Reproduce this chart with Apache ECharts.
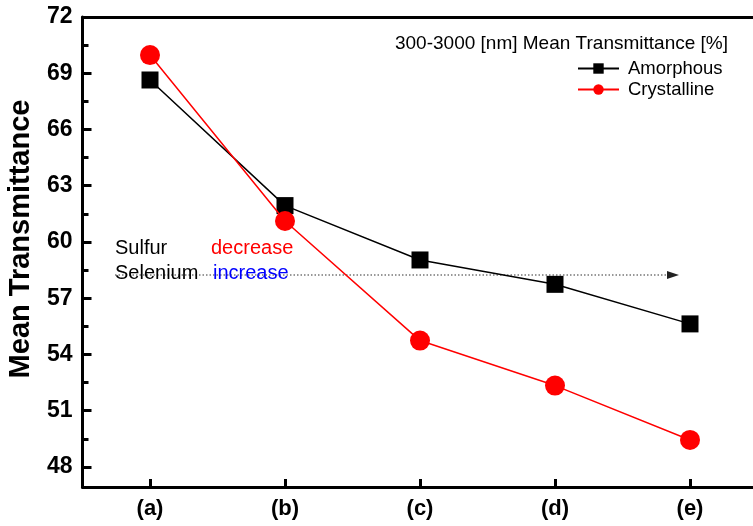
<!DOCTYPE html>
<html>
<head>
<meta charset="utf-8">
<script src="https://cdn.jsdelivr.net/npm/echarts@6/dist/echarts.min.js"></script>
<style>
  html, body { margin: 0; padding: 0; background: #fff; }
  #chart { width: 753px; height: 526px; }
</style>
</head>
<body>
<div id="chart"></div>
<script>
// Sample labels and mean transmittance (300-3000 nm), in %
const categories = ['(a)', '(b)', '(c)', '(d)', '(e)'];
const amorphous = [68.64, 61.94, 59.04, 57.74, 55.63];
const crystalline = [69.97, 61.12, 54.74, 52.34, 49.44];
const yTickValues = [48, 51, 54, 57, 60, 63, 66, 69, 72];
const yMinorTickValues = [49.5, 52.5, 55.5, 58.5, 61.5, 64.5, 67.5, 70.5];

const FONT = 'Liberation Sans, Arial, Helvetica, sans-serif';
const Y_MIN = 46.93, Y_MAX = 72;

const chart = echarts.init(document.getElementById('chart'), null, { renderer: 'canvas' });

const axisLineStyle = { color: '#000', width: 3 };

chart.setOption({
  backgroundColor: '#fff',
  animation: false,
  grid: { left: 82.5, top: 17, width: 675, height: 470, containLabel: false, outerBoundsMode: 'none' },
  xAxis: [
    {
      type: 'category',
      data: categories,
      boundaryGap: true,
      position: 'bottom',
      axisLine: { show: true, onZero: false, lineStyle: axisLineStyle },
      axisTick: { show: true, inside: true, alignWithLabel: true, length: 8, lineStyle: { width: 3, color: '#000' } },
      axisLabel: { color: '#000', fontFamily: FONT, fontWeight: 'bold', fontSize: 22, margin: 11 },
      splitLine: { show: false }
    },
    {
      type: 'category',
      data: categories,
      boundaryGap: true,
      position: 'top',
      axisLine: { show: true, onZero: false, lineStyle: axisLineStyle },
      axisTick: { show: false },
      axisLabel: { show: false },
      splitLine: { show: false }
    }
  ],
  yAxis: [
    {
      type: 'value',
      min: Y_MIN,
      max: Y_MAX,
      position: 'left',
      name: 'Mean Transmittance',
      nameLocation: 'middle',
      nameRotate: 90,
      nameGap: 47,
      nameTextStyle: { color: '#000', fontFamily: FONT, fontWeight: 'bold', fontSize: 29, padding: [0, 0, 0, 26] },
      axisLine: { show: true, onZero: false, lineStyle: axisLineStyle },
      axisTick: { show: true, inside: true, length: 9, customValues: yTickValues, lineStyle: { width: 3, color: '#000' } },
      axisLabel: { customValues: yTickValues, color: '#000', fontFamily: FONT, fontWeight: 'bold', fontSize: 23, margin: 10 },
      splitLine: { show: false }
    },
    {
      type: 'value',
      min: Y_MIN,
      max: Y_MAX,
      position: 'left',
      axisLine: { show: false },
      axisTick: { show: true, inside: true, length: 6, customValues: yMinorTickValues, lineStyle: { width: 3, color: '#000' } },
      axisLabel: { show: false },
      splitLine: { show: false }
    }
  ],
  legend: {
    orient: 'vertical',
    left: 577,
    top: 59,
    padding: 0,
    itemWidth: 41,
    itemHeight: 13,
    itemGap: 2,
    textStyle: { color: '#000', fontFamily: FONT, fontSize: 18.5, padding: [0, 0, 0, 4] },
    data: ['Amorphous', 'Crystalline']
  },
  graphic: [
    { type: 'text', right: 25, top: 34, style: { text: '300-3000 [nm] Mean Transmittance [%]', fill: '#000', font: '19px ' + FONT } },
    { type: 'text', x: 115, y: 248, style: { text: 'Sulfur', fill: '#000', font: '20px ' + FONT, textVerticalAlign: 'middle' } },
    { type: 'text', x: 211, y: 248, style: { text: 'decrease', fill: '#ff0000', font: '20px ' + FONT, textVerticalAlign: 'middle' } },
    { type: 'line', shape: { x1: 115, y1: 275, x2: 670, y2: 275 }, style: { stroke: '#777', lineWidth: 1.5, lineDash: [1.5, 2] } },
    { type: 'polygon', shape: { points: [[667, 271], [679, 275], [667, 279]] }, style: { fill: '#222' } },
    { type: 'text', x: 115, y: 273, style: { text: 'Selenium', fill: '#000', font: '20px ' + FONT, textVerticalAlign: 'middle' } },
    { type: 'text', x: 213, y: 273, style: { text: 'increase', fill: '#0000ff', font: '20px ' + FONT, textVerticalAlign: 'middle' } }
  ],
  series: [
    {
      name: 'Amorphous',
      type: 'line',
      data: amorphous,
      symbol: 'rect',
      symbolSize: 17,
      itemStyle: { color: '#000' },
      lineStyle: { color: '#000', width: 1.5 },
      z: 3
    },
    {
      name: 'Crystalline',
      type: 'line',
      data: crystalline,
      symbol: 'circle',
      symbolSize: 20,
      itemStyle: { color: '#ff0000' },
      lineStyle: { color: '#ff0000', width: 1.5 },
      z: 4
    }
  ]
});
</script>
</body>
</html>
